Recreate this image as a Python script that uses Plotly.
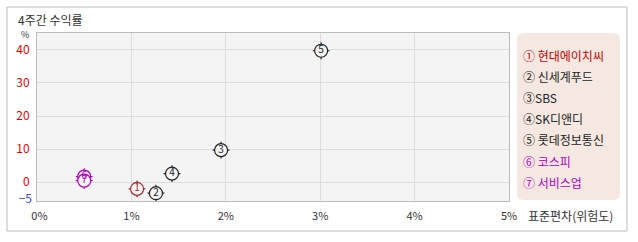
import plotly.graph_objects as go

# ---- data ----
names = ["현대에이치씨", "신세계푸드", "SBS", "SK디앤디", "롯데정보통신", "코스피", "서비스업"]
marks = ["①", "②", "③", "④", "⑤", "⑥", "⑦"]
digits = ["1", "2", "3", "4", "5", "6", "7"]
std_dev = [1.06, 1.26, 1.95, 1.43, 3.01, 0.50, 0.50]      # x: 표준편차(위험도), %
returns_4w = [-2.0, -3.3, 9.7, 2.6, 39.7, 1.7, 0.5]       # y: 4주간 수익률, %
point_colors = ["#a52a2a", "#222222", "#222222", "#222222", "#222222", "#b000c0", "#b000c0"]
legend_colors = ["#c00000", "#222222", "#222222", "#222222", "#222222", "#b000c0", "#b000c0"]
x_ticks = [0, 1, 2, 3, 4, 5]
x_ticktext = ["\u00a0\u00a00%", "1%", "2%", "3%", "4%", "5%"]
y_ticks = [0, 10, 20, 30, 40]
y_min_tick = [-5]

FONT = "Noto Sans CJK KR, Noto Sans, sans-serif"
W, H = 638, 242
L, R, T, B = 37, 509, 33, 201

def px(x):
    return (x - L) / (R - L)

def py(y):
    return (B - y) / (B - T)

fig = go.Figure()

# crosshair ticks
fig.add_trace(go.Scatter(
    x=std_dev, y=returns_4w, mode="markers",
    marker=dict(symbol="cross-thin-open", size=12, color=point_colors,
                line=dict(color=point_colors, width=1.2)),
    hoverinfo="skip", showlegend=False))
# circles
fig.add_trace(go.Scatter(
    x=std_dev, y=returns_4w, mode="markers",
    marker=dict(symbol="circle", size=13, color="rgba(244,244,244,1)",
                line=dict(color=point_colors, width=1.2)),
    hoverinfo="skip", showlegend=False))
# numbers
fig.add_trace(go.Scatter(
    x=std_dev, y=returns_4w, mode="text", text=digits,
    textfont=dict(family=FONT, size=10, color=point_colors),
    textposition="middle center",
    hovertext=names, showlegend=False))
# invisible trace for secondary y axis (for the -5 label)
fig.add_trace(go.Scatter(x=[None], y=[None], yaxis="y2", showlegend=False))

shapes = []
# outer border
shapes.append(dict(type="rect", xref="paper", yref="paper",
                   x0=px(7), x1=px(627), y0=py(231), y1=py(7),
                   line=dict(color="#bbbbbb", width=1), layer="below"))
# rounded legend box
x0, x1, y0, y1, r = 517, 620, 33, 200, 7
path = (f"M {px(x0 + r)},{py(y0)} L {px(x1 - r)},{py(y0)} "
        f"Q {px(x1)},{py(y0)} {px(x1)},{py(y0 + r)} L {px(x1)},{py(y1 - r)} "
        f"Q {px(x1)},{py(y1)} {px(x1 - r)},{py(y1)} L {px(x0 + r)},{py(y1)} "
        f"Q {px(x0)},{py(y1)} {px(x0)},{py(y1 - r)} L {px(x0)},{py(y0 + r)} "
        f"Q {px(x0)},{py(y0)} {px(x0 + r)},{py(y0)} Z")
shapes.append(dict(type="path", xref="paper", yref="paper", path=path,
                   fillcolor="#f5e8e1", line=dict(width=0), layer="below"))

annotations = []
annotations.append(dict(text="4주간 수익률", xref="paper", yref="paper", x=px(16), y=py(19),
                        xanchor="left", yanchor="middle", showarrow=False,
                        font=dict(family=FONT, size=12, color="#333333")))
annotations.append(dict(text="%", xref="paper", yref="paper", x=px(25), y=py(35),
                        xanchor="center", yanchor="middle", showarrow=False,
                        font=dict(family=FONT, size=9, color="#333333")))
annotations.append(dict(text="표준편차(위험도)", xref="paper", yref="paper", x=px(526), y=py(215),
                        xanchor="left", yanchor="middle", showarrow=False,
                        font=dict(family=FONT, size=12, color="#333333")))
for i, (m, n, c) in enumerate(zip(marks, names, legend_colors)):
    sep = "" if n[0].isascii() else " "
    annotations.append(dict(text=f"{m}{sep}{n}", xref="paper", yref="paper",
                            x=px(521), y=py(55 + i * 21.2),
                            xanchor="left", yanchor="middle", showarrow=False,
                            font=dict(family=FONT, size=12, color=c)))

yrange = [-5.65, 45.05]
fig.update_layout(
    width=W, height=H,
    margin=dict(l=L, r=W - R, t=T, b=H - B, pad=0),
    paper_bgcolor="white", plot_bgcolor="#f4f4f4",
    font=dict(family=FONT, size=11, color="#333333"),
    xaxis=dict(range=[0, 5], tickvals=x_ticks, ticktext=x_ticktext,
               showgrid=True, gridcolor="#dddddd", gridwidth=1, zeroline=False,
               showline=True, linecolor="#bbbbbb", linewidth=1, mirror=True,
               ticks="", tickfont=dict(family=FONT, size=11, color="#333333"),
               ticklabelstandoff=5, fixedrange=True),
    yaxis=dict(range=yrange, tickvals=y_ticks,
               showgrid=True, gridcolor="#dddddd", gridwidth=1, zeroline=False,
               showline=True, linecolor="#bbbbbb", linewidth=1, mirror=True,
               ticks="", tickfont=dict(family=FONT, size=12, color="#ee0000"),
               ticklabelstandoff=4, fixedrange=True),
    yaxis2=dict(range=yrange, tickvals=y_min_tick, overlaying="y", side="left",
                showgrid=False, zeroline=False, showline=False, ticks="",
                tickfont=dict(family=FONT, size=12, color="#4040ff"),
                ticklabelstandoff=4, fixedrange=True),
    shapes=shapes, annotations=annotations,
    showlegend=False,
)

fig.write_html("out.html")
